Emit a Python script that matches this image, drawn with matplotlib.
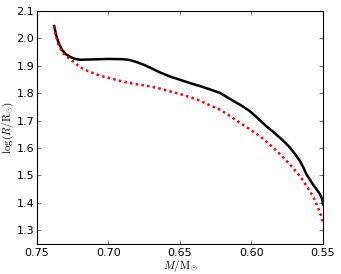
import matplotlib
matplotlib.use('Agg')
import matplotlib.pyplot as plt

plt.rcParams['mathtext.fontset'] = 'cm'

# Stellar mass (M/Msun) and log radius
mass_solid = [0.738, 0.7365, 0.735, 0.7325, 0.730, 0.727, 0.724, 0.720, 0.713,
              0.700, 0.690, 0.685, 0.680, 0.675, 0.670, 0.664, 0.657, 0.650,
              0.643, 0.636, 0.629, 0.622, 0.6127, 0.607, 0.601, 0.595, 0.5895,
              0.585, 0.580, 0.576, 0.573, 0.5695, 0.566, 0.5635, 0.5615,
              0.559, 0.557, 0.5545, 0.552, 0.5505, 0.550]
logr_solid = [2.045, 2.010, 1.985, 1.958, 1.943, 1.933, 1.926, 1.922, 1.923,
              1.925, 1.924, 1.921, 1.913, 1.903, 1.891, 1.876, 1.861, 1.849,
              1.837, 1.826, 1.814, 1.801, 1.772, 1.755, 1.734, 1.706, 1.679,
              1.660, 1.637, 1.618, 1.601, 1.578, 1.552, 1.527, 1.504, 1.484,
              1.467, 1.450, 1.431, 1.413, 1.395]

mass_dotted = [0.738, 0.7365, 0.735, 0.7325, 0.730, 0.727, 0.722, 0.7176,
               0.713, 0.706, 0.699, 0.692, 0.685, 0.678, 0.671, 0.664, 0.657,
               0.650, 0.643, 0.636, 0.630, 0.622, 0.615, 0.608, 0.601, 0.594,
               0.587, 0.580, 0.573, 0.566, 0.5615, 0.557, 0.5545, 0.552,
               0.5505, 0.550]
logr_dotted = [2.045, 2.005, 1.978, 1.950, 1.937, 1.925, 1.904, 1.888, 1.878,
               1.864, 1.855, 1.845, 1.837, 1.831, 1.825, 1.817, 1.807, 1.797,
               1.786, 1.773, 1.758, 1.740, 1.717, 1.692, 1.668, 1.643, 1.612,
               1.578, 1.540, 1.497, 1.462, 1.425, 1.396, 1.364, 1.340, 1.322]

xticks = [0.75, 0.70, 0.65, 0.60, 0.55]
yticks = [1.3, 1.4, 1.5, 1.6, 1.7, 1.8, 1.9, 2.0, 2.1]

fig = plt.figure(figsize=(3.41, 2.74), dpi=100)
ax = fig.add_axes([0.1085, 0.1095, 0.8385, 0.8505])

ax.plot(mass_solid, logr_solid, color='black', lw=1.8, solid_joinstyle='round')
ax.plot(mass_dotted, logr_dotted, color='red', lw=1.8, ls=(0, (1, 1.3)))

ax.set_xlim(0.75, 0.55)
ax.set_ylim(1.25, 2.1)
ax.set_xticks(xticks)
ax.set_xticklabels(['%.2f' % v for v in xticks])
ax.set_yticks(yticks)
ax.set_yticklabels(['%.1f' % v for v in yticks])

ax.tick_params(axis='x', direction='in', top=True, labelsize=8, length=3, color='0.5', pad=3)
ax.tick_params(axis='y', direction='in', right=True, labelsize=8, length=3, color='0.5', pad=2)

ax.set_xlabel(r'$M/\mathrm{M}_{\odot}$', fontsize=8, labelpad=0)
ax.set_ylabel(r'$\log(R/\mathrm{R}_{\odot})$', fontsize=8, labelpad=0.5)

fig.savefig('out.png', dpi=100)
